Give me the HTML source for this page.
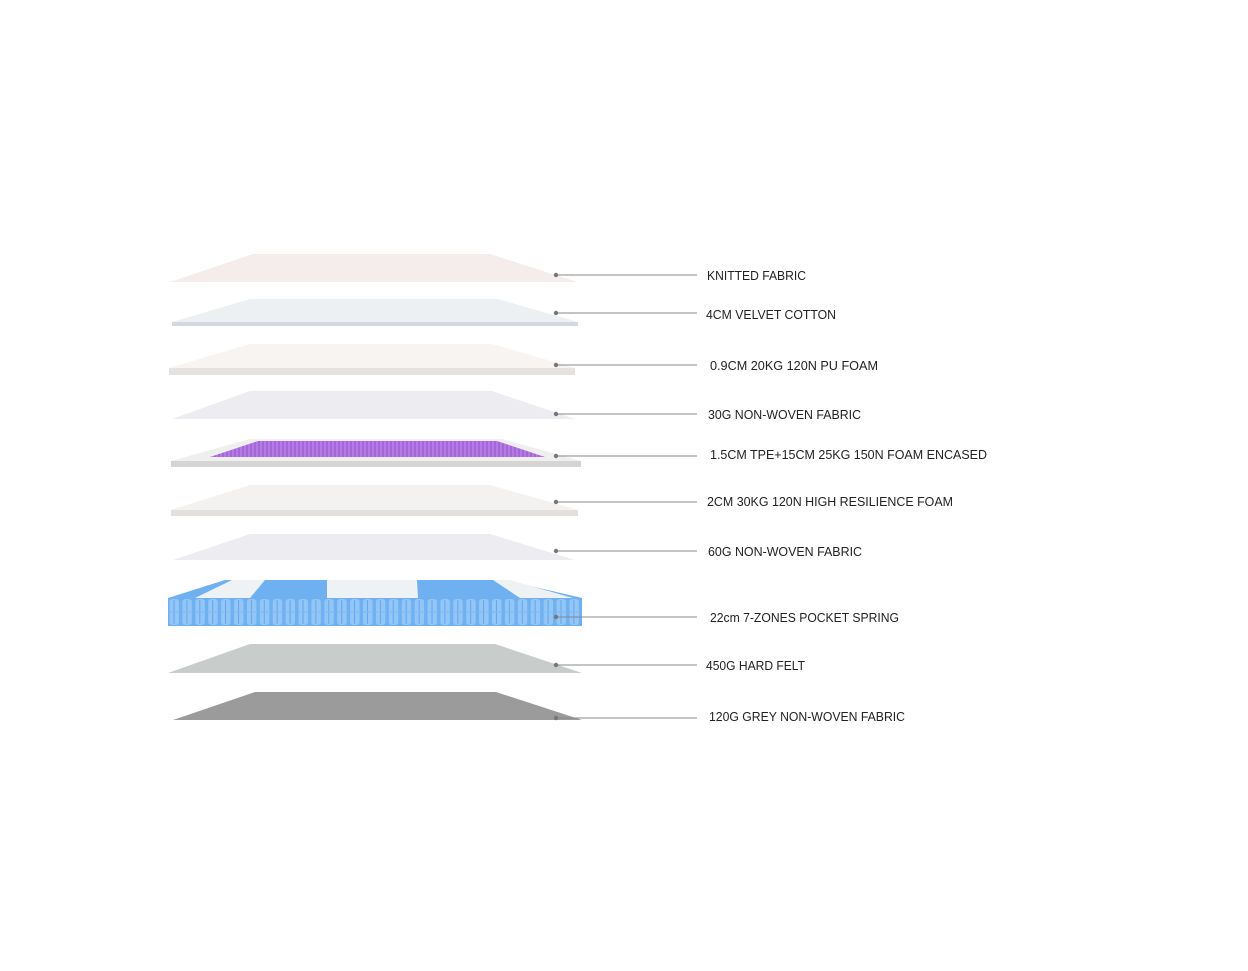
<!DOCTYPE html>
<html><head><meta charset="utf-8"><style>
html,body{margin:0;padding:0;background:#fff;width:1248px;height:971px;overflow:hidden}
text{font-family:"Liberation Sans",sans-serif;font-size:13px;fill:#222}
</style></head><body>
<svg width="1248" height="971" viewBox="0 0 1248 971" xmlns="http://www.w3.org/2000/svg">
<defs>
<pattern id="cells" x="168" y="598" width="12.9" height="28" patternUnits="userSpaceOnUse">
<rect width="12.9" height="28" fill="#6eb0f0"/>
<rect x="1.5" y="1" width="9.5" height="26" rx="3" fill="#92c6f6"/>
<line x1="6" y1="2" x2="6" y2="26" stroke="#64a6ea" stroke-width="1"/>
<line x1="1" y1="14" x2="12" y2="14" stroke="#7db8f2" stroke-width="1"/>
</pattern>
<pattern id="purp" width="4" height="4" patternUnits="userSpaceOnUse">
<rect width="4" height="4" fill="#a565db"/><rect width="2" height="4" fill="#b37ce2"/>
</pattern>
</defs>
<polygon points="253,254 490,254 577,282 170,282" fill="#f5ecec"/>
<polygon points="250,299 498,299 578,322 172,322" fill="#edf0f2"/>
<rect x="172" y="322" width="406" height="4" fill="#d3d9de"/>
<polygon points="250,344 492,344 575,368 169,368" fill="#f7f4f2"/>
<rect x="169" y="368" width="406" height="7" fill="#e4e2e0"/>
<polygon points="250,391 492,391 575,419 172,419" fill="#edecf0"/>
<polygon points="250,439 502,439 581,461 171,461" fill="#f0efef"/>
<polygon points="258,441 497,441 545,457 210,457" fill="url(#purp)"/>
<rect x="171" y="461" width="410" height="6" fill="#d6d4d4"/>
<polygon points="250,485 490,485 578,510 171,510" fill="#f4f2f1"/>
<rect x="171" y="510" width="407" height="6" fill="#e3e1e0"/>
<polygon points="250,534 490,534 575,560 173,560" fill="#edecf0"/>
<polygon points="225,580 505,580 582,598 168,598" fill="#6eb0f0"/>
<polygon points="232,580 265,580 250,598 195,598" fill="#eef2f5"/>
<polygon points="327,580 417,580 418,598 327,598" fill="#eef2f5"/>
<polygon points="493,580 510,580 573,598 520,598" fill="#eef2f5"/>
<rect x="168" y="598" width="414" height="28" fill="url(#cells)"/>
<polygon points="250,644 495,644 582,673 168,673" fill="#c8ccca"/>
<polygon points="255,692 496,692 582,720 173,720" fill="#9b9b9b"/>
<g stroke="#888" stroke-width="1">
<line x1="556" y1="275" x2="697" y2="275"/>
<line x1="556" y1="313" x2="697" y2="313"/>
<line x1="556" y1="365" x2="697" y2="365"/>
<line x1="556" y1="414" x2="697" y2="414"/>
<line x1="556" y1="456" x2="697" y2="456"/>
<line x1="556" y1="502" x2="697" y2="502"/>
<line x1="556" y1="551" x2="697" y2="551"/>
<line x1="556" y1="617" x2="697" y2="617"/>
<line x1="556" y1="665" x2="697" y2="665"/>
<line x1="556" y1="718" x2="697" y2="718"/>
</g>
<g fill="#777">
<circle cx="556" cy="275" r="2.2"/><circle cx="556" cy="313" r="2.2"/><circle cx="556" cy="365" r="2.2"/>
<circle cx="556" cy="414" r="2.2"/><circle cx="556" cy="456" r="2.2"/><circle cx="556" cy="502" r="2.2"/>
<circle cx="556" cy="551" r="2.2"/><circle cx="556" cy="617" r="2.2"/><circle cx="556" cy="665" r="2.2"/>
<circle cx="556" cy="718" r="2.2"/>
</g>
<g>
<text x="707" y="280" textLength="99" lengthAdjust="spacingAndGlyphs">KNITTED FABRIC</text>
<text x="706" y="319" textLength="130" lengthAdjust="spacingAndGlyphs">4CM VELVET COTTON</text>
<text x="710" y="370" textLength="168" lengthAdjust="spacingAndGlyphs">0.9CM 20KG 120N PU FOAM</text>
<text x="708" y="419" textLength="153" lengthAdjust="spacingAndGlyphs">30G NON-WOVEN FABRIC</text>
<text x="710" y="459" textLength="277" lengthAdjust="spacingAndGlyphs">1.5CM TPE+15CM 25KG 150N FOAM ENCASED</text>
<text x="707" y="506" textLength="246" lengthAdjust="spacingAndGlyphs">2CM 30KG 120N  HIGH RESILIENCE FOAM</text>
<text x="708" y="556" textLength="154" lengthAdjust="spacingAndGlyphs">60G NON-WOVEN FABRIC</text>
<text x="710" y="622" textLength="189" lengthAdjust="spacingAndGlyphs">22cm 7-ZONES POCKET SPRING</text>
<text x="706" y="670" textLength="99" lengthAdjust="spacingAndGlyphs">450G HARD FELT</text>
<text x="709" y="721" textLength="196" lengthAdjust="spacingAndGlyphs">120G GREY NON-WOVEN FABRIC</text>
</g>
</svg>
</body></html>
